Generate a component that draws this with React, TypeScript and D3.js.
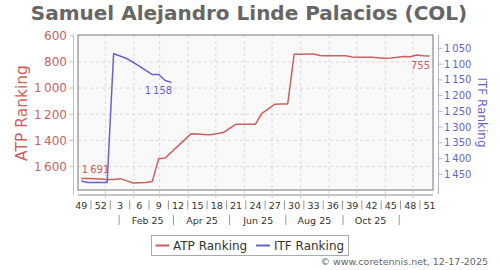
import React from "react";
import * as d3 from "d3";

const weeks = [49, 50, 51, 52, 1, 2, 3, 4, 5, 6, 7, 8, 9, 10, 11, 12, 13, 14, 15, 16, 17, 18, 19, 20, 21, 22, 23, 24, 25, 26, 27, 28, 29, 30, 31, 32, 33, 34, 35, 36, 37, 38, 39, 40, 41, 42, 43, 44, 45, 46, 47, 48, 49, 50, 51];
const atpRanking = [1691, 1692, 1693, 1695, 1700, 1700, 1693, 1708, 1726, 1724, 1722, 1714, 1540, 1535, 1489, 1442, 1396, 1350, 1352, 1356, 1357, 1350, 1340, 1308, 1276, 1276, 1276, 1276, 1193, 1159, 1123, 1121, 1121, 741, 741, 740, 739, 750, 752, 752, 752, 752, 762, 765, 765, 765, 768, 772, 770, 765, 758, 760, 747, 752, 755];
const itfRanking = [1471, 1476, 1476, 1476, 1476, 1067, 1074, 1082, 1094, 1106, 1120, 1133, 1133, 1152, 1158];
const atpTicks = [600, 800, 1000, 1200, 1400, 1600];
const itfTicks = [1050, 1100, 1150, 1200, 1250, 1300, 1350, 1400, 1450];
const monthLabels = ["Feb 25", "Apr 25", "Jun 25", "Aug 25", "Oct 25"];

const FONT = "DejaVu Sans";
const RED = "#cc5f5f";
const BLUE = "#6464cc";
const DAY = 86400000;
const START = Date.UTC(2024, 11, 6);

const fmt = (v: number) => {
  const s = String(v);
  return s.length > 3 ? s.slice(0, s.length - 3) + "\u2009" + s.slice(-3) : s;
};

export default function App() {
  const left = 78, right = 433, top = 35, bottom = 190;
  const x = d3.scaleUtc().domain([new Date(Date.UTC(2025, 0, 1)), new Date(Date.UTC(2025, 11, 1))]).range([105.3, 413]);
  const yA = d3.scaleLinear().domain([600, 1600]).range([35.8, 166.5]);
  const yI = d3.scaleLinear().domain([1050, 1450]).range([48.4, 174.3]);
  const date = (i: number) => new Date(START + i * 7 * DAY);

  const atpLine = d3.line<number>().x((_, i) => x(date(i))).y((d) => yA(d))(atpRanking) || "";
  const itfLine = d3.line<number>().x((_, i) => x(date(i))).y((d) => yI(d))(itfRanking) || "";

  const months = d3.utcMonth.range(new Date(Date.UTC(2025, 0, 1)), new Date(Date.UTC(2025, 11, 2)));
  const labelIdx = weeks.map((_, i) => i).filter((i) => i % 3 === 0);
  const sepIdx = labelIdx.slice(0, -1).map((i) => i + 1.5);
  const xIdx = (i: number) => x(new Date(START + i * 7 * DAY));
  const monthSeps = [0, 2, 4, 6, 8, 10].map((m) => x(new Date(Date.UTC(2025, m, 16))));
  const monthLabelX = [1, 3, 5, 7, 9].map((m) => x(new Date(Date.UTC(2025, m, 16))));

  const lastA = atpRanking.length - 1;
  const lastI = itfRanking.length - 1;

  return (
    <div style={{ position: "fixed", left: 0, top: 0 }}>
      <svg width={500} height={270} style={{ display: "block", fontFamily: FONT }}>
        <rect x={0} y={0} width={500} height={270} fill="#fff" />
        <text x={249} y={20} textAnchor="middle" fontSize={20} fontWeight="bold" fill="#666">
          Samuel Alejandro Linde Palacios (COL)
        </text>
        <rect x={left} y={top} width={right - left} height={bottom - top} fill="#f9f9f9" />
        {atpTicks.slice(1).map((t) => (
          <line key={t} x1={left} x2={right} y1={yA(t)} y2={yA(t)} stroke="#d9d9d9" strokeDasharray="3,3" />
        ))}
        {months.map((m) => (
          <line key={+m} x1={x(m)} x2={x(m)} y1={top} y2={bottom} stroke="#d9d9d9" strokeDasharray="3,3" />
        ))}
        <rect x={left} y={top} width={right - left} height={bottom - top} fill="none" stroke="#777" />

        {/* left axis */}
        <line x1={73.5} x2={73.5} y1={top} y2={195} stroke="#e3b3b3" />
        {atpTicks.map((t) => (
          <g key={t}>
            <line x1={69.5} x2={73.5} y1={yA(t)} y2={yA(t)} stroke="#e3b3b3" />
            <text x={67} y={yA(t) + 4.3} textAnchor="end" fontSize={12} fill={RED}>{fmt(t)}</text>
          </g>
        ))}
        <text transform={`translate(27,113) rotate(-90)`} textAnchor="middle" fontSize={15.5} fill={RED}>ATP Ranking</text>

        {/* right axis */}
        <line x1={438.5} x2={438.5} y1={top} y2={194} stroke="#b0b0e0" />
        {itfTicks.map((t) => (
          <g key={t}>
            <line x1={438.5} x2={442.5} y1={yI(t)} y2={yI(t)} stroke="#b0b0e0" />
            <text x={444} y={yI(t) + 3.5} fontSize={10} fill={BLUE}>{fmt(t)}</text>
          </g>
        ))}
        <text transform={`translate(478,112.5) rotate(90)`} textAnchor="middle" fontSize={12} fill={BLUE}>ITF Ranking</text>

        {/* x axis */}
        <line x1={left} x2={right} y1={195} y2={195} stroke="#888" />
        {months.map((m) => (
          <line key={+m} x1={x(m)} x2={x(m)} y1={191} y2={198} stroke="#ccc" />
        ))}
        {labelIdx.map((i) => (
          <text key={i} x={xIdx(i)} y={208.5} textAnchor="middle" fontSize={9.5} fill="#333">{weeks[i]}</text>
        ))}
        {sepIdx.map((i) => (
          <line key={i} x1={xIdx(i)} x2={xIdx(i)} y1={200.5} y2={209.5} stroke="#999" />
        ))}
        {monthLabels.map((l, k) => (
          <text key={l} x={monthLabelX[k]} y={224} textAnchor="middle" fontSize={9.5} fill="#333">{l}</text>
        ))}
        {monthSeps.map((s, k) => (
          <line key={k} x1={s} x2={s} y1={215} y2={225} stroke="#999" />
        ))}

        {/* series */}
        <path d={atpLine} fill="none" stroke={RED} strokeWidth={1.5} strokeLinejoin="round" />
        <path d={itfLine} fill="none" stroke={BLUE} strokeWidth={1.5} strokeLinejoin="round" />
        <text x={x(date(0)) + 0.5} y={yA(atpRanking[0]) - 5} fontSize={10} fill={RED}>{fmt(atpRanking[0])}</text>
        <text x={x(date(lastI)) + 0.5} y={yI(itfRanking[lastI]) + 12} textAnchor="end" fontSize={10} fill={BLUE}>{fmt(itfRanking[lastI])}</text>
        <text x={x(date(lastA)) + 0.5} y={yA(atpRanking[lastA]) + 13} textAnchor="end" fontSize={10} fill={RED}>{fmt(atpRanking[lastA])}</text>

        {/* legend */}
        <rect x={151.5} y={235.5} width={197} height={20} fill="#fff" stroke="#aaa" />
        <line x1={155.5} x2={169.5} y1={245.5} y2={245.5} stroke={RED} strokeWidth={2} />
        <text x={173} y={250} fontSize={12} fill="#333">ATP Ranking</text>
        <line x1={256} x2={270} y1={245.5} y2={245.5} stroke={BLUE} strokeWidth={2} />
        <text x={274} y={250} fontSize={12} fill="#333">ITF Ranking</text>

        <text x={488} y={265} textAnchor="end" fontSize={9.5} fill="#666">© www.coretennis.net, 12-17-2025</text>
      </svg>
    </div>
  );
}
